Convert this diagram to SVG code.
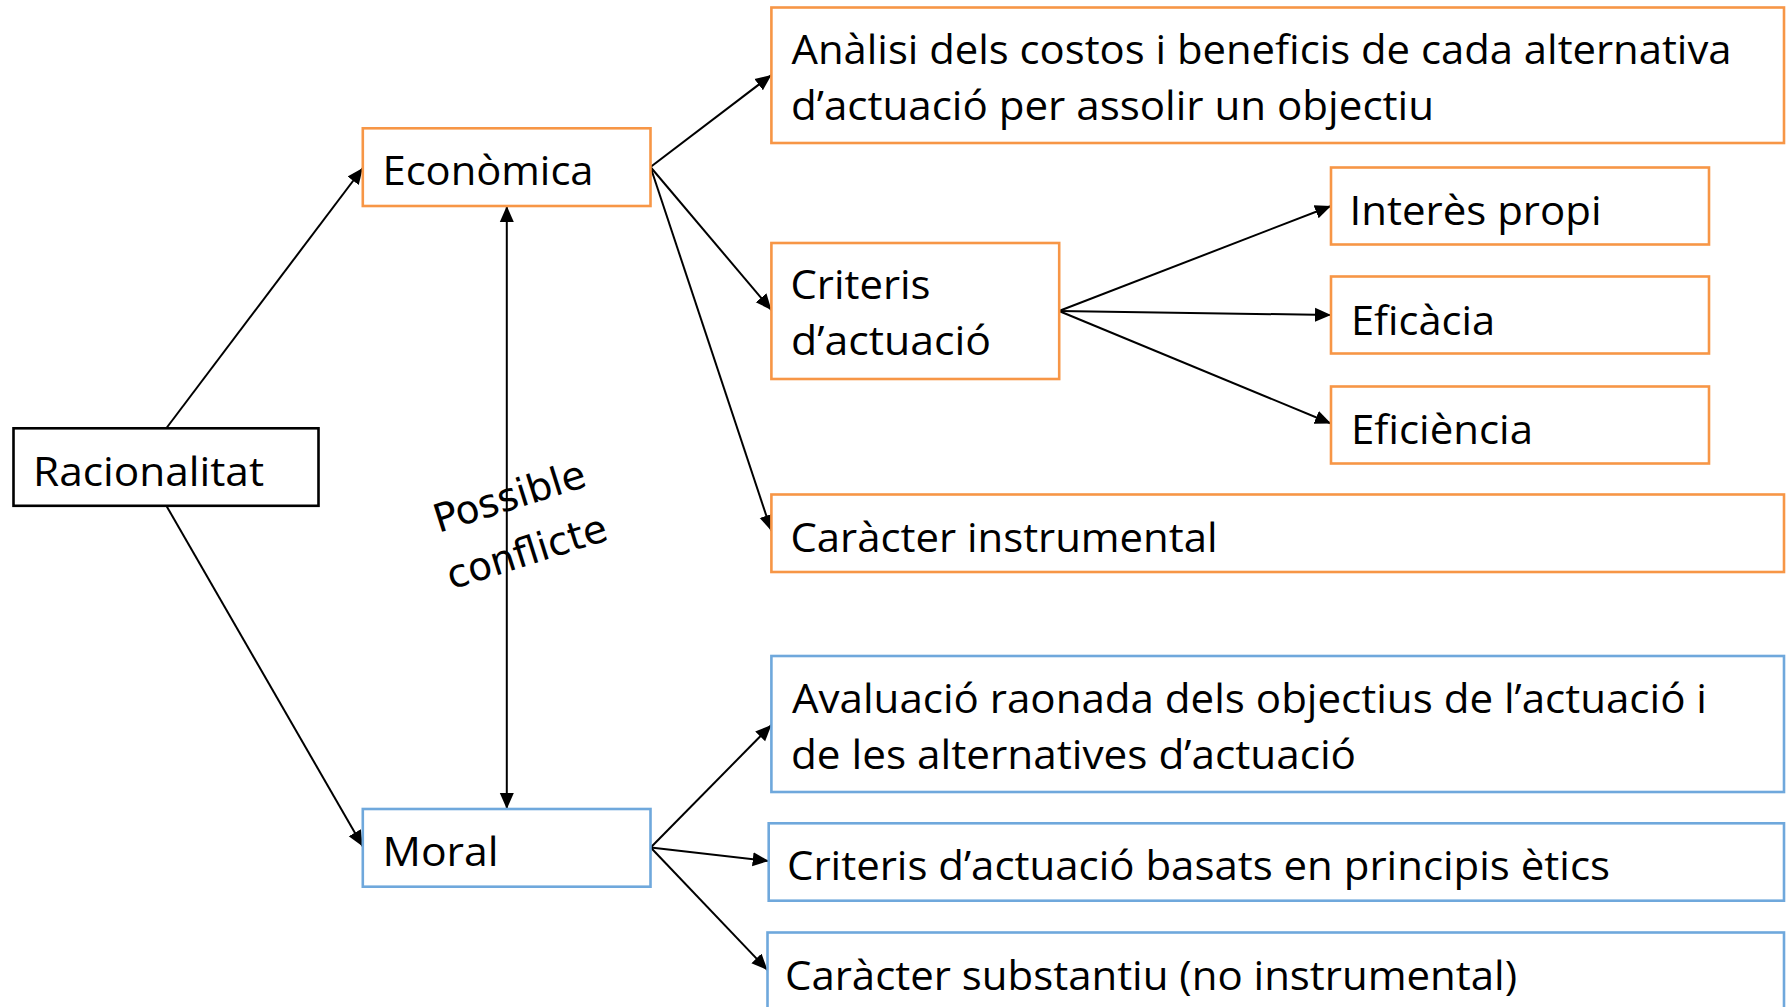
<svg xmlns="http://www.w3.org/2000/svg" width="1786" height="1007" viewBox="0 0 1786 1007">
<style>
.box{fill:#fff;stroke-width:2.6}
.or{stroke:#F79646}
.bl{stroke:#6FA8DC}
.bk{stroke:#000}
.t{font-family:"Open Sans","Noto Sans","DejaVu Sans",sans-serif;font-size:40px;fill:#000}
.lbl{font-family:"DejaVu Sans","Verdana",sans-serif;font-size:39px;fill:#000}
.c{fill:none;stroke:#000;stroke-width:2}
</style>
<defs>
<marker id="ah" markerUnits="userSpaceOnUse" markerWidth="18" markerHeight="16" viewBox="0 0 18 16" refX="16" refY="8" orient="auto-start-reverse">
<path d="M0,1 L16,8 L0,15 Z" fill="#000"/>
</marker>
</defs>
<rect width="1786" height="1007" fill="#fff"/>
<g id="connectors">
<path class="c" d="M166.5,428 L362.8,168" marker-end="url(#ah)"/>
<path class="c" d="M166.5,506 L362.8,846.5" marker-end="url(#ah)"/>
<path class="c" d="M650.5,167 L771.4,75" marker-end="url(#ah)"/>
<path class="c" d="M650.5,167 L771.4,310" marker-end="url(#ah)"/>
<path class="c" d="M650.5,167 L771.4,531" marker-end="url(#ah)"/>
<path class="c" d="M1059,311 L1331,206" marker-end="url(#ah)"/>
<path class="c" d="M1059,311 L1331,315" marker-end="url(#ah)"/>
<path class="c" d="M1059,311 L1331,423.5" marker-end="url(#ah)"/>
<path class="c" d="M506.8,206 L506.8,809" marker-start="url(#ah)" marker-end="url(#ah)"/>
<path class="c" d="M650.7,847.5 L771.4,725" marker-end="url(#ah)"/>
<path class="c" d="M650.7,847.5 L768.7,861" marker-end="url(#ah)"/>
<path class="c" d="M650.7,847.5 L767.5,970" marker-end="url(#ah)"/>
<g id="label-conflicte">
<text class="lbl" transform="translate(438.5,533) rotate(-17.5)">Possible</text>
<text class="lbl" transform="translate(451.5,589.5) rotate(-17.5)">conflicte</text>
</g>
</g>
<g id="racionalitat">
<rect class="box bk" x="13.5" y="428.3" width="305" height="77.5"/>
<text class="t" x="33" y="485.5" textLength="231" lengthAdjust="spacingAndGlyphs">Racionalitat</text>
</g>
<g id="economica">
<rect class="box or" x="362.8" y="128.3" width="287.7" height="77.7"/>
<text class="t" x="382.5" y="185" textLength="211" lengthAdjust="spacingAndGlyphs">Econòmica</text>
</g>
<g id="moral">
<rect class="box bl" x="362.8" y="809" width="287.7" height="77.7"/>
<text class="t" x="382.5" y="866" textLength="116" lengthAdjust="spacingAndGlyphs">Moral</text>
</g>
<g id="analisi">
<rect class="box or" x="771.4" y="7.5" width="1012.6" height="135.5"/>
<text class="t" x="791.5" y="63.5" textLength="940" lengthAdjust="spacingAndGlyphs">Anàlisi dels costos i beneficis de cada alternativa</text>
<text class="t" x="791" y="120" textLength="643" lengthAdjust="spacingAndGlyphs">d’actuació per assolir un objectiu</text>
</g>
<g id="criteris">
<rect class="box or" x="771.4" y="243" width="287.8" height="136"/>
<text class="t" x="790.5" y="299" textLength="140" lengthAdjust="spacingAndGlyphs">Criteris</text>
<text class="t" x="791" y="355" textLength="200" lengthAdjust="spacingAndGlyphs">d’actuació</text>
</g>
<g id="interes">
<rect class="box or" x="1331" y="167.5" width="378" height="77"/>
<text class="t" x="1349.5" y="225" textLength="252" lengthAdjust="spacingAndGlyphs">Interès propi</text>
</g>
<g id="eficacia">
<rect class="box or" x="1331" y="276.5" width="378" height="77"/>
<text class="t" x="1351" y="334.5" textLength="144" lengthAdjust="spacingAndGlyphs">Eficàcia</text>
</g>
<g id="eficiencia">
<rect class="box or" x="1331" y="386.5" width="378" height="77"/>
<text class="t" x="1351" y="444" textLength="182" lengthAdjust="spacingAndGlyphs">Eficiència</text>
</g>
<g id="instrumental">
<rect class="box or" x="771.4" y="494.5" width="1012.6" height="77.5"/>
<text class="t" x="790.5" y="551.5" textLength="427" lengthAdjust="spacingAndGlyphs">Caràcter instrumental</text>
</g>
<g id="avaluacio">
<rect class="box bl" x="771.4" y="656" width="1012.6" height="136"/>
<text class="t" x="792" y="713" textLength="915" lengthAdjust="spacingAndGlyphs">Avaluació raonada dels objectius de l’actuació i</text>
<text class="t" x="791" y="768.5" textLength="565" lengthAdjust="spacingAndGlyphs">de les alternatives d’actuació</text>
</g>
<g id="criteris-etics">
<rect class="box bl" x="768.7" y="823.3" width="1015.3" height="77.4"/>
<text class="t" x="787" y="880" textLength="823" lengthAdjust="spacingAndGlyphs">Criteris d’actuació basats en principis ètics</text>
</g>
<g id="substantiu">
<rect class="box bl" x="767.5" y="932.5" width="1016.5" height="78"/>
<text class="t" x="785" y="989.5" textLength="732" lengthAdjust="spacingAndGlyphs">Caràcter substantiu (no instrumental)</text>
</g>
</svg>
